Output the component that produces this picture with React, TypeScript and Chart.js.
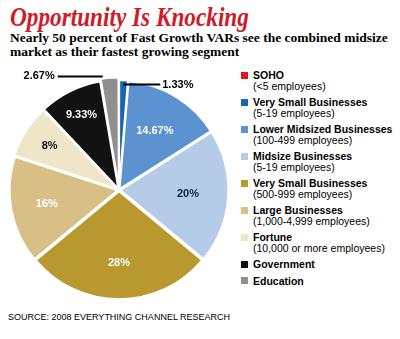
import React, { useEffect, useRef } from "react";
import { Chart, registerables } from "chart.js";

Chart.register(...registerables);

const categories = [
  "SOHO",
  "Very Small Businesses",
  "Lower Midsized Businesses",
  "Midsize Businesses",
  "Very Small Businesses",
  "Large Businesses",
  "Fortune",
  "Government",
  "Education",
];
const subLabels = [
  "(<5 employees)",
  "(5-19 employees)",
  "(100-499 employees)",
  "(5-19 employees)",
  "(500-999 employees)",
  "(1,000-4,999 employees)",
  "(10,000 or more employees)",
  "",
  "",
];
const shares = [0, 1.33, 14.67, 20, 28, 16, 8, 9.33, 2.67];
const shareLabels = ["", "1.33%", "14.67%", "20%", "28%", "16%", "8%", "9.33%", "2.67%"];

const sliceColors = [
  "#e3141f",
  "#1766b4",
  "#5b92cf",
  "#b5cce9",
  "#b8982f",
  "#d7bf86",
  "#efe5c9",
  "#121212",
  "#8f8f8f",
];
const labelColors = ["#000", "#000", "#fff", "#10203a", "#fff", "#fff", "#111", "#fff", "#000"];
const sliceOffsets = [4, 4, 4, 5, 5, 5, 6, 6, 10];
const labelRadii = [0.66, 0.66, 0.64, 0.64, 0.68, 0.68, 0.76, 0.78, 0.66];

const sliceLabelPlugin = {
  id: "sliceLabels",
  afterDatasetsDraw(chart: any) {
    const ctx = chart.ctx;
    const meta = chart.getDatasetMeta(0);
    meta.data.forEach((arc: any, i: number) => {
      const v = shares[i];
      if (!v) return;
      const { x, y, startAngle, endAngle, outerRadius } = arc.getProps(
        ["x", "y", "startAngle", "endAngle", "outerRadius"],
        true
      );
      const off = sliceOffsets[i];
      const mid = (startAngle + endAngle) / 2;
      const cx = x + Math.cos(mid) * off;
      const cy = y + Math.sin(mid) * off;
      ctx.save();
      ctx.font = "bold 11px 'Liberation Sans', Arial, sans-serif";
      ctx.textBaseline = "middle";
      if (v < 5) {
        const right = Math.cos(mid) >= 0;
        let ax: number, ay: number, ex: number;
        if (right) {
          ax = cx + Math.cos(mid) * outerRadius * 0.9;
          ay = cy + Math.sin(mid) * outerRadius * 0.94;
          ex = ax + 37;
        } else {
          const a = startAngle + 0.02;
          ax = cx + Math.cos(a) * outerRadius * 0.97;
          ay = cy + Math.sin(a) * outerRadius * 0.97;
          ex = ax - 45;
        }
        ctx.strokeStyle = "#000";
        ctx.lineWidth = 2;
        ctx.beginPath();
        ctx.moveTo(ax, ay);
        ctx.lineTo(ex, ay);
        ctx.stroke();
        ctx.fillStyle = "#000";
        ctx.textAlign = right ? "left" : "right";
        ctx.fillText(shareLabels[i], right ? ex + 2 : ex - 3, ay);
      } else {
        const r = outerRadius * labelRadii[i];
        ctx.fillStyle = labelColors[i];
        ctx.textAlign = "center";
        ctx.fillText(shareLabels[i], x + Math.cos(mid) * r, y + Math.sin(mid) * r);
      }
      ctx.restore();
    });
  },
};

export default function App() {
  const canvasRef = useRef<HTMLCanvasElement | null>(null);

  useEffect(() => {
    if (!canvasRef.current) return;
    const chart = new Chart(canvasRef.current, {
      type: "pie",
      data: {
        labels: categories,
        datasets: [
          {
            data: shares,
            backgroundColor: sliceColors,
            borderColor: "#ffffff",
            borderWidth: 2,
            offset: sliceOffsets,
          },
        ],
      },
      options: {
        responsive: false,
        animation: false,
        radius: 108,
        layout: { padding: 0 },
        plugins: {
          legend: { display: false },
          tooltip: { enabled: false },
        },
      },
      plugins: [sliceLabelPlugin],
    });
    return () => chart.destroy();
  }, []);

  return (
    <div
      style={{
        position: "absolute",
        left: 0,
        top: 0,
        width: 400,
        height: 339,
        background: "#fff",
        overflow: "hidden",
      }}
    >
      <div
        style={{
          position: "absolute",
          left: 10,
          top: 1,
          fontFamily: "'Liberation Serif', serif",
          fontStyle: "italic",
          fontWeight: "bold",
          fontSize: 28,
          lineHeight: "32px",
          color: "#cf1b29",
          whiteSpace: "nowrap",
          transform: "scaleX(0.83)",
          transformOrigin: "left top",
        }}
      >
        Opportunity Is Knocking
      </div>
      <div
        style={{
          position: "absolute",
          left: 10,
          top: 30.5,
          fontFamily: "'Liberation Serif', serif",
          fontWeight: "bold",
          fontSize: 13.5,
          lineHeight: "14px",
          color: "#000",
          whiteSpace: "nowrap",
        }}
      >
        Nearly 50 percent of Fast Growth VARs see the combined midsize
        <br />
        market as their fastest growing segment
      </div>
      <canvas
        ref={canvasRef}
        width={238}
        height={240}
        style={{ position: "absolute", left: 0, top: 70, width: 238, height: 240 }}
      />
      <div
        style={{
          position: "absolute",
          left: 241,
          top: 70,
          fontFamily: "'Liberation Sans', Arial, sans-serif",
          fontSize: 10.5,
          lineHeight: "10.5px",
          color: "#000",
          whiteSpace: "nowrap",
        }}
      >
        {categories.map((c, i) => (
          <div key={i} style={{ position: "relative", paddingLeft: 12, marginBottom: 6 }}>
            <div
              style={{
                position: "absolute",
                left: 0,
                top: 1.5,
                width: 7,
                height: 7,
                background: sliceColors[i],
              }}
            />
            <div style={{ fontWeight: "bold" }}>{c}</div>
            {subLabels[i] ? <div>{subLabels[i]}</div> : null}
          </div>
        ))}
      </div>
      <div
        style={{
          position: "absolute",
          left: 8,
          top: 312,
          fontFamily: "'Liberation Sans', Arial, sans-serif",
          fontSize: 9,
          lineHeight: "11px",
          color: "#000",
          whiteSpace: "nowrap",
        }}
      >
        SOURCE: 2008 EVERYTHING CHANNEL RESEARCH
      </div>
    </div>
  );
}
